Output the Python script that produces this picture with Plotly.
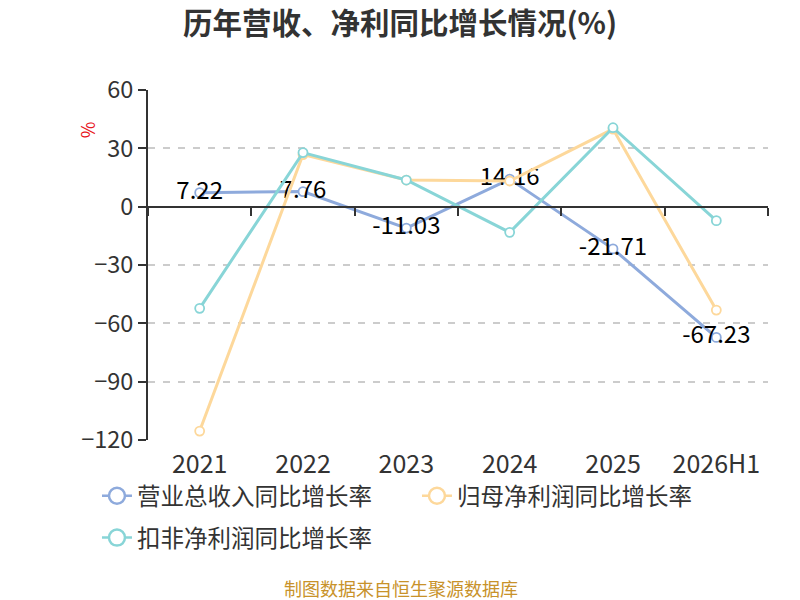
import plotly.graph_objects as go

categories = ['2021', '2022', '2023', '2024', '2025', '2026H1']
revenue_growth = [7.22, 7.76, -11.03, 14.16, -21.71, -67.23]
net_profit_growth = [-115.4, 26.8, 13.7, 13.2, 39.9, -53.2]
deducted_profit_growth = [-52.3, 27.8, 13.7, -13.2, 40.6, -7.2]
series_names = ['营业总收入同比增长率', '归母净利润同比增长率', '扣非净利润同比增长率']
colors = ['#8eaadc', '#fdd89b', '#88d5d7']
y_ticks = [60, 30, 0, -30, -60, -90, -120]

FONT = 'Noto Sans CJK SC'

fig = go.Figure()

series = [revenue_growth, net_profit_growth, deducted_profit_growth]
for i, vals in enumerate(series):
    fig.add_trace(go.Scatter(
        x=categories, y=vals, mode='lines+markers+text' if i == 0 else 'lines+markers',
        text=[f'{v:.2f}' for v in vals] if i == 0 else None,
        textposition='middle center',
        textfont=dict(size=24, color='#000000', family=FONT),
        line=dict(color=colors[i], width=3),
        marker=dict(symbol='circle', size=9, color='white', line=dict(color=colors[i], width=1.8)),
        showlegend=False, hoverinfo='skip'
    ))

# legend-only entries with big open circles, also carrying the zero-line axis
for i, name in enumerate(series_names):
    fig.add_trace(go.Scatter(
        x=categories, y=[None] * len(categories), mode='lines+markers', name=name,
        line=dict(color=colors[i], width=2.5),
        marker=dict(symbol='circle', size=16, color='white', line=dict(color=colors[i], width=2.5)),
        xaxis='x2', legend='legend' if i < 2 else 'legend2', hoverinfo='skip'
    ))

# page has an 8px body margin, so the figure is shifted by 8px
fig.update_layout(
    width=784, height=592,
    margin=dict(l=140, r=24, t=82, b=160),
    paper_bgcolor='white', plot_bgcolor='white',
    font=dict(family=FONT, color='#333333'),
    title=dict(text='<b>历年营收、净利同比增长情况(%)</b>', x=0.5, xanchor='center',
               y=0.973, yanchor='middle', font=dict(size=29.5, color='#333333', family=FONT)),
    xaxis=dict(type='category', categoryorder='array', categoryarray=categories,
               range=[-0.5, 5.5], showgrid=False, showline=False, zeroline=False, ticks='',
               ticklabelstandoff=7,
               tickfont=dict(size=25, color='#333333'), fixedrange=True),
    xaxis2=dict(type='category', categoryorder='array', categoryarray=categories,
                range=[-0.5, 5.5], overlaying='x', anchor='free', position=2 / 3,
                showline=True, linecolor='#333333', linewidth=2,
                ticks='outside', tickson='boundaries', ticklen=8, tickcolor='#333333', tickwidth=2,
                showticklabels=False, showgrid=False, zeroline=False),
    yaxis=dict(range=[-120, 60], tickvals=y_ticks, showgrid=True, gridcolor='#cccccc',
               griddash='7px,8px', gridwidth=1.6, zeroline=False,
               showline=True, linecolor='#333333', linewidth=2,
               ticks='outside', ticklen=8, tickwidth=2, tickcolor='#333333',
               tickfont=dict(size=23.5, color='#333333')),
    legend=dict(orientation='h', x=-0.0823, xanchor='left', y=-0.097, yanchor='top',
                font=dict(size=23.5, color='#333333', family=FONT), entrywidth=275,
                entrywidthmode='pixels', bgcolor='rgba(0,0,0,0)'),
    legend2=dict(orientation='h', x=-0.0823, xanchor='left', y=-0.2167, yanchor='top',
                 font=dict(size=23.5, color='#333333', family=FONT), entrywidth=275,
                 entrywidthmode='pixels', bgcolor='rgba(0,0,0,0)'),
    annotations=[
        dict(text='%', x=-0.098, y=0.886, xref='paper', yref='paper', showarrow=False,
             xanchor='center', yanchor='middle',
             textangle=-90, font=dict(size=18, color='#e8141b', family=FONT)),
        dict(text='制图数据来自恒生聚源数据库', x=0.408, y=-0.4229, xref='paper', yref='paper',
             xanchor='center', yanchor='middle', showarrow=False,
             font=dict(size=18, color='#c8922a', family=FONT)),
    ],
)

fig.write_html('out.html')
